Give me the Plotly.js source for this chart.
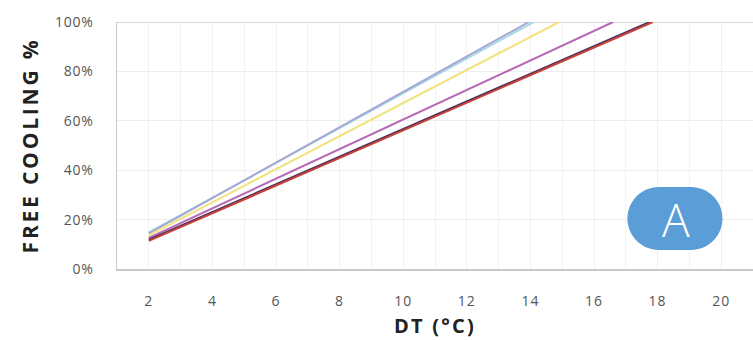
<!DOCTYPE html>
<html>
<head>
<meta charset="utf-8">
<script src="https://cdn.plot.ly/plotly-3.0.1.min.js"></script>
<style>
html,body{margin:0;padding:0;background:#fff;}
#chart{width:753px;height:340px;}
#chart .g-ytitle text{letter-spacing:2.8px;}
#chart .g-xtitle text{letter-spacing:2.2px;}
#chart .xtick text{letter-spacing:1px;}
#chart .ytick text{letter-spacing:0.8px;}
</style>
</head>
<body>
<div id="chart"></div>
<script>
// Data: DT (°C) vs free cooling %
const dtStart = 2;
const seriesNames = ["S1", "S2", "S3", "S4", "S5", "S6"];
const seriesColors = ["#a8d8e8", "#a6a8d4", "#f2e27e", "#b768b6", "#4b2d5c", "#c8433a"];
const startValues = [14.8, 14.4, 13.6, 12.6, 11.9, 11.4];   // % at DT = 2
const endDT = [14.1, 13.95, 14.9, 16.6, 17.75, 17.85];      // DT where 100% is reached
const endValue = 100;
const xTicks = [2, 4, 6, 8, 10, 12, 14, 16, 18, 20];
const yTicks = [0, 20, 40, 60, 80, 100];

const traces = seriesNames.map((n, i) => ({
  type: "scatter", mode: "lines", name: n,
  x: [dtStart, endDT[i]],
  y: [startValues[i], endValue],
  line: {color: seriesColors[i], width: 2},
  hoverinfo: "skip"
}));

// badge pill geometry (data units)
const L = 18.04, R = 19.05, cy = 20.4, rx = 0.99, ry = 12.75, k = 0.5523;
const pill = `M ${L},${cy+ry} L ${R},${cy+ry} C ${R+k*rx},${cy+ry} ${R+rx},${cy+k*ry} ${R+rx},${cy} ` +
  `C ${R+rx},${cy-k*ry} ${R+k*rx},${cy-ry} ${R},${cy-ry} L ${L},${cy-ry} ` +
  `C ${L-k*rx},${cy-ry} ${L-rx},${cy-k*ry} ${L-rx},${cy} C ${L-rx},${cy+k*ry} ${L-k*rx},${cy+ry} ${L},${cy+ry} Z`;

const layout = {
  width: 753, height: 340,
  margin: {l: 117, r: 0, t: 22, b: 71},
  paper_bgcolor: "#fff", plot_bgcolor: "#fff",
  showlegend: false,
  font: {family: "Open Sans, sans-serif", color: "#555"},
  xaxis: {
    range: [1, 21], tickvals: xTicks, ticktext: xTicks.map(String),
    showgrid: true, gridcolor: "#f0f0f0", gridwidth: 1,
    minor: {dtick: 1, tick0: 1, showgrid: true, gridcolor: "#f2f2f2"},
    showline: true, linecolor: "#c8c8c8", linewidth: 1.5,
    zeroline: false, ticks: "", ticklabelstandoff: 19,
    tickfont: {size: 14, color: "#555"},
    title: {text: "DT (°C)", font: {size: 20, color: "#222", family: "Open Sans, sans-serif", weight: "bold"}, standoff: 9}
  },
  yaxis: {
    range: [0, 100], tickvals: yTicks, ticktext: yTicks.map(v => v + "%"),
    showgrid: true, gridcolor: "#eeeeee", gridwidth: 1,
    showline: true, linecolor: "#c8c8c8", linewidth: 1.5,
    zeroline: false, ticks: "", ticklabelstandoff: 19,
    tickfont: {size: 14, color: "#555"},
    title: {text: "FREE COOLING %", font: {size: 21, color: "#222", family: "Open Sans, sans-serif", weight: "bold"}, standoff: 14}
  },
  shapes: [
    {type: "line", xref: "paper", yref: "y", x0: 0, x1: 1, y0: 100, y1: 100, line: {color: "#c8c8c8", width: 1.5}, layer: "below"},
    {type: "path", xref: "x", yref: "y", path: pill, fillcolor: "#5b9dd6", line: {width: 0}, layer: "above"}
  ],
  annotations: [
    {x: (L + R) / 2 + 0.03, y: cy, xref: "x", yref: "y", text: "A", showarrow: false,
     font: {size: 46, color: "#ffffff", family: "Open Sans, sans-serif", weight: 300}}
  ]
};

Plotly.newPlot("chart", traces, layout, {displayModeBar: false, staticPlot: true});
</script>
</body>
</html>
